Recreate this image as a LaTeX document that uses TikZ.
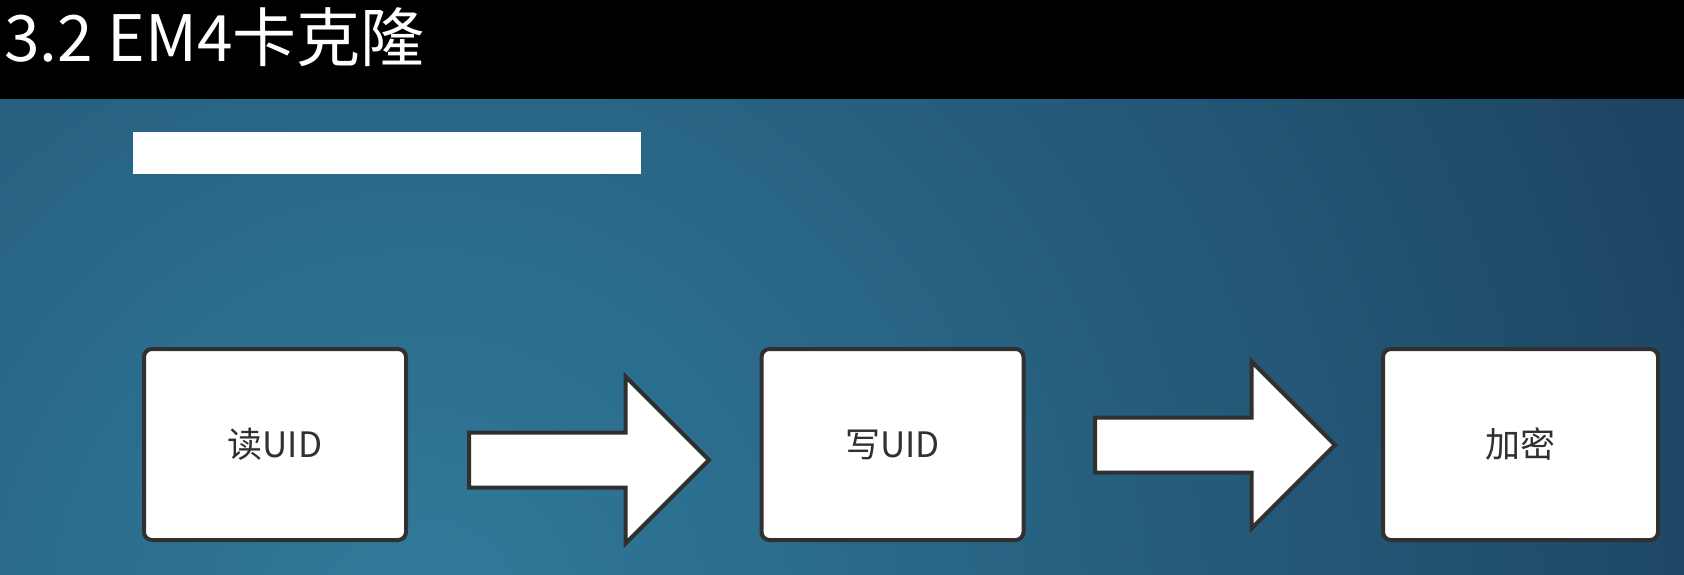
\documentclass[tikz,border=0pt]{standalone}
\usepackage{fontspec}
\setmainfont{Noto Sans CJK SC}
\usetikzlibrary{shapes.arrows, positioning}

\definecolor{bgdark}{HTML}{183653}
\definecolor{bglight}{HTML}{317B9C}
\definecolor{boxline}{HTML}{303030}

\tikzset{
  stagebox/.style={draw=boxline, line width=4pt, fill=white, rounded corners=8pt,
    minimum width=262pt, minimum height=191pt, text=boxline,
    font=\fontsize{35pt}{40pt}\selectfont},
  blockarrow/.style={single arrow, draw=boxline, line width=4pt, fill=white,
    minimum height=240pt, minimum width=164pt, inner sep=25.5pt,
    single arrow head extend=56pt, anchor=tail}
}

\begin{document}
\begin{tikzpicture}[x=1pt, y=-1pt]
            \useasboundingbox (0,0) rectangle (1684,575);

            % Blue background
            \begin{scope}
              \clip (0,99) rectangle (1684,575);
              \shade[inner color=bglight, outer color=bgdark] (420,620) circle (1700);
            \end{scope}

            % Title bar
            \fill[black] (0,0) rectangle (1684,99);
            \node[anchor=base west, inner sep=0pt, text=white,
              font=\fontsize{64pt}{70pt}\selectfont] (title) at (4,62) {3.2 EM4卡克隆};

            % Subtitle bar
            \fill[white] (133,132) rectangle (641,174);

            % Steps
            \node[stagebox] (read) at (275,444.5) {读UID};
            \node[stagebox] (write) at (892.5,444.5) {写UID};
            \node[stagebox, minimum width=275pt] (encrypt) at (1520.5,444.5) {加密};

            % Block arrows between the steps
            \node[blockarrow] (readwrite) at (467,460) {};
            \node[blockarrow] (writeencrypt) at (1093,445) {};
        \end{tikzpicture}
\end{document}
